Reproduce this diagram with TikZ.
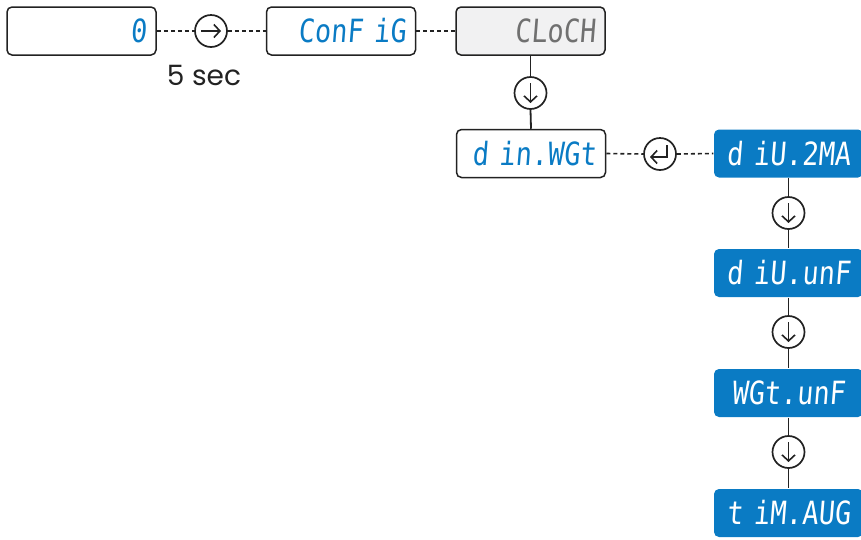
\documentclass[tikz,border=0pt]{standalone}
\usepackage{fontspec}
\setmainfont{Poppins}
\newfontfamily\segfont[FakeSlant=0.08,FakeStretch=0.84]{DejaVu Sans Mono}
\usetikzlibrary{arrows.meta,calc}
\definecolor{segblue}{HTML}{0A7BC4}
\definecolor{seggrey}{HTML}{707070}
\definecolor{boxgrey}{HTML}{F1F1F2}
\definecolor{linecol}{HTML}{222222}
\begin{document}
\begin{tikzpicture}[x=1pt,y=-1pt,
  disp/.style={draw=linecol, line width=1.5pt, rounded corners=5pt,
    minimum width=149pt, minimum height=48pt, inner sep=0pt,
    text width=130pt, align=right,
    font=\segfont\fontsize{32}{32}\selectfont, text=segblue},
  greydisp/.style={disp, fill=boxgrey, text=seggrey},
  bluedisp/.style={disp, draw=none, fill=segblue, text=white, text width=142pt, align=center},
  keycirc/.style={circle, draw=linecol, line width=1.7pt, minimum size=32pt, inner sep=0pt},
  dashcon/.style={draw=linecol, line width=1.6pt, dash pattern=on 4pt off 3pt},
  solidcon/.style={draw=linecol, line width=1.8pt},
  arr/.style={draw=linecol, line width=1.6pt, -{Straight Barb[length=6pt,width=13pt]}}
]
\useasboundingbox (0,0) rectangle (861,539);

\node[disp] (zero) at (81.5,31) {0};
\node[disp] (config) at (341,31) {ConF~iG};
\node[greydisp] (clock) at (530.5,31) {CLoCH};
\node[disp] (din) at (531,153.5) {d~in.WGt};
\node[bluedisp] (b1) at (788.5,153.5) {d~iU.2MA};
\node[bluedisp] (b2) at (788.5,273) {d~iU.unF};
\node[bluedisp] (b3) at (788.5,393) {WGt.unF};
\node[bluedisp] (b4) at (788.5,513) {t~iM.AUG};

\node[keycirc] (c1) at (211,31) {};
\node[keycirc] (c2) at (530.5,93) {};
\node[keycirc] (c3) at (660,154) {};
\node[keycirc] (c4) at (788.5,213) {};
\node[keycirc] (c5) at (788.5,332) {};
\node[keycirc] (c6) at (788.5,452) {};

\node[font=\fontsize{28}{28}\selectfont, text=linecol] (sec) at (204,75) {5 sec};

% connectors
\draw[dashcon] (zero.east) -- (c1.west);
\draw[dashcon] (c1.east) -- (config.west);
\draw[dashcon] (config.east) -- (clock.west);
\draw[solidcon] (clock.south) -- (c2.north);
\draw[solidcon] (c2.south) -- (din.north);
\draw[dashcon] (din.east) -- (c3.west);
\draw[dashcon] (c3.east) -- (b1.west);
\draw[solidcon] (b1.south) -- (c4.north);
\draw[solidcon] (c4.south) -- (b2.north);
\draw[solidcon] (b2.south) -- (c5.north);
\draw[solidcon] (c5.south) -- (b3.north);
\draw[solidcon] (b3.south) -- (c6.north);
\draw[solidcon] (c6.south) -- (b4.north);

% key glyphs
\draw[arr] ($(c1)+(-10,0)$) -- ($(c1)+(10,0)$);
\draw[arr] ($(c2)+(0,-10)$) -- ($(c2)+(0,10)$);
\draw[arr] ($(c4)+(0,-10)$) -- ($(c4)+(0,10)$);
\draw[arr] ($(c5)+(0,-10)$) -- ($(c5)+(0,10)$);
\draw[arr] ($(c6)+(0,-10)$) -- ($(c6)+(0,10)$);
\draw[arr] ($(c3)+(7,-9)$) -- ($(c3)+(7,3)$) -- ($(c3)+(-10,3)$);
\end{tikzpicture}
\end{document}
